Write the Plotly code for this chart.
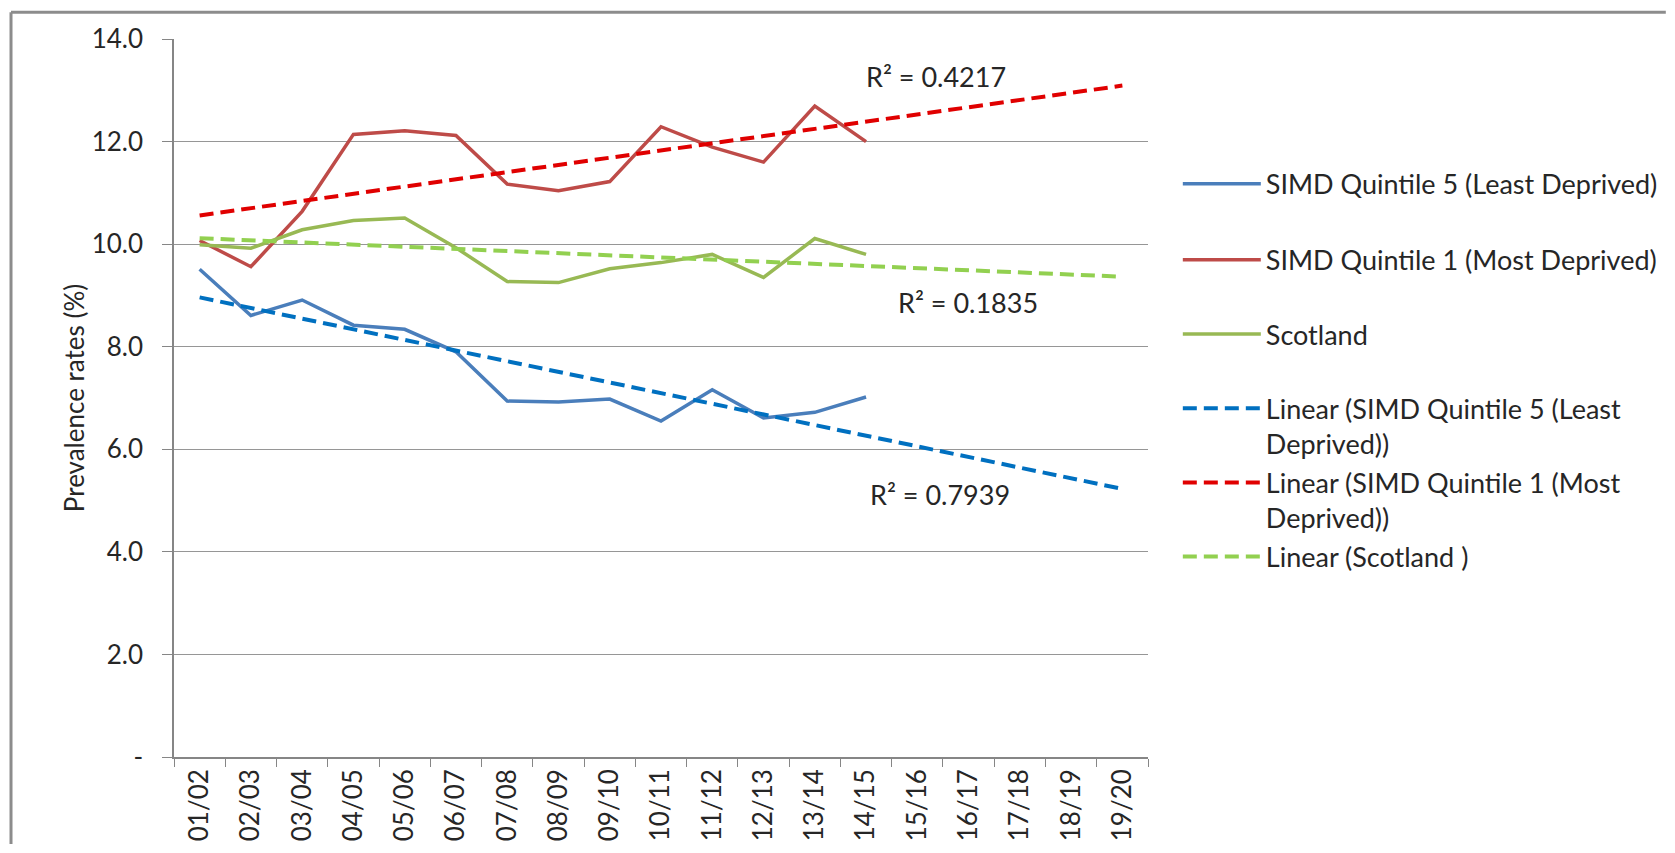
import numpy as np
import plotly.graph_objects as go

categories = ["01/02", "02/03", "03/04", "04/05", "05/06", "06/07", "07/08", "08/09",
              "09/10", "10/11", "11/12", "12/13", "13/14", "14/15", "15/16", "16/17",
              "17/18", "18/19", "19/20"]
q5_least = [9.51, 8.61, 8.91, 8.42, 8.34, 7.90, 6.94, 6.92, 6.98, 6.55, 7.16, 6.61, 6.72, 7.02]
q1_most = [10.07, 9.56, 10.64, 12.14, 12.21, 12.12, 11.17, 11.04, 11.22, 12.29, 11.89, 11.60, 12.69, 12.00]
scotland = [9.99, 9.92, 10.28, 10.46, 10.51, 9.93, 9.27, 9.25, 9.52, 9.64, 9.80, 9.35, 10.11, 9.80]
r2_labels = {"q1": "R² = 0.4217", "scot": "R² = 0.1835", "q5": "R² = 0.7939"}
y_tickvals = [0, 2, 4, 6, 8, 10, 12, 14]
y_ticktext = ["-", "2.0", "4.0", "6.0", "8.0", "10.0", "12.0", "14.0"]

FONT = "Lato"
FS = 26
FS_LEG = 27
TXT = "#262626"


def trend(vals):
    n = len(vals)
    slope, icpt = np.polyfit(np.arange(n), vals, 1)
    xs = np.arange(len(categories))
    return list(icpt + slope * xs)


fig = go.Figure()

series = [
    ("SIMD Quintile 5 (Least Deprived)", q5_least, "#4A7EBB", "legend"),
    ("SIMD Quintile 1 (Most Deprived)", q1_most, "#BE4B48", "legend2"),
    ("Scotland", scotland, "#98B954", "legend3"),
]
for name, vals, col, lg in series:
    fig.add_trace(go.Scatter(x=categories[:len(vals)], y=vals, mode="lines", name=name,
                             line=dict(color=col, width=3.5), legend=lg))

trends = [
    ("Linear (SIMD Quintile 5 (Least<br>Deprived))", q5_least, "#0070C0", "legend4"),
    ("Linear (SIMD Quintile 1 (Most<br>Deprived))", q1_most, "#E00000", "legend5"),
    ("Linear (Scotland )", scotland, "#92D050", "legend6"),
]
for name, vals, col, lg in trends:
    fig.add_trace(go.Scatter(x=categories, y=trend(vals), mode="lines", name=name,
                             line=dict(color=col, width=4, dash="14px,7px"), legend=lg))

# R^2 labels
fig.add_annotation(x=14.36, y=13.27, xref="x", yref="y", text=r2_labels["q1"], showarrow=False,
                   font=dict(family=FONT, size=FS_LEG, color=TXT))
fig.add_annotation(x=14.98, y=8.87, xref="x", yref="y", text=r2_labels["scot"], showarrow=False,
                   font=dict(family=FONT, size=FS_LEG, color=TXT))
fig.add_annotation(x=14.45, y=5.11, xref="x", yref="y", text=r2_labels["q5"], showarrow=False,
                   font=dict(family=FONT, size=FS_LEG, color=TXT))

# page has an 8px body margin; target page coords -> figure coords
OFF = 8
W, H = 1675 - OFF, 853 - OFF
# plot area in page coords: x 174..1154, y 39..765
L = 174 - OFF
T = 39 - OFF
R = W - (1154 - OFF)
B = H - (765 - OFF)
pw, ph = W - L - R, H - T - B


def px2paper_x(X):
    return (X - OFF - L) / pw


def px2paper_y(Y):
    return (H - B - (Y - OFF)) / ph


legend_centers = [184, 261, 336, 411, 486, 561]
legend_keys = ["legend", "legend2", "legend3", "legend4", "legend5", "legend6"]
leg_layout = {}
for key, cy in zip(legend_keys, legend_centers):
    leg_layout[key] = dict(
        x=px2paper_x(1184), xanchor="left",
        y=px2paper_y(cy - 23), yanchor="top",
        bgcolor="rgba(0,0,0,0)", borderwidth=0,
        font=dict(family=FONT, size=FS_LEG, color=TXT),
        itemwidth=78, valign="top", tracegroupgap=0,
    )

fig.update_layout(
    width=W, height=H,
    margin=dict(l=L, r=R, t=T, b=B, pad=0),
    paper_bgcolor="white", plot_bgcolor="white",
    showlegend=True,
    font=dict(family=FONT, size=FS, color=TXT),
    **leg_layout,
)

fig.update_xaxes(
    type="category", categoryorder="array", categoryarray=categories,
    range=[-0.5, len(categories) - 0.5],
    tickangle=-90, tickson="boundaries", ticks="outside", ticklen=8, tickcolor="#868686",
    showline=True, linecolor="#868686", linewidth=1.5, showgrid=False,
    tickfont=dict(family=FONT, size=FS, color=TXT), zeroline=False,
)
fig.update_yaxes(
    range=[0, 14], tickvals=y_tickvals, ticktext=y_ticktext,
    ticks="outside", ticklen=10, tickcolor="#868686", ticklabelstandoff=14,
    showline=True, linecolor="#868686", linewidth=1.5,
    showgrid=True, gridcolor="#969696", gridwidth=1.2, zeroline=False,
    tickfont=dict(family=FONT, size=FS, color=TXT),
    title=dict(text="Prevalence rates (%)", font=dict(family=FONT, size=FS, color=TXT), standoff=0),
)

# outer frame (top and left edges visible)
fig.add_shape(type="line", xref="paper", yref="paper", x0=px2paper_x(10), x1=px2paper_x(1675),
              y0=px2paper_y(12), y1=px2paper_y(12), line=dict(color="#8C8C8C", width=3))
fig.add_shape(type="line", xref="paper", yref="paper", x0=px2paper_x(10), x1=px2paper_x(10),
              y0=px2paper_y(12), y1=px2paper_y(853), line=dict(color="#8C8C8C", width=3))

fig.write_html("out.html")
